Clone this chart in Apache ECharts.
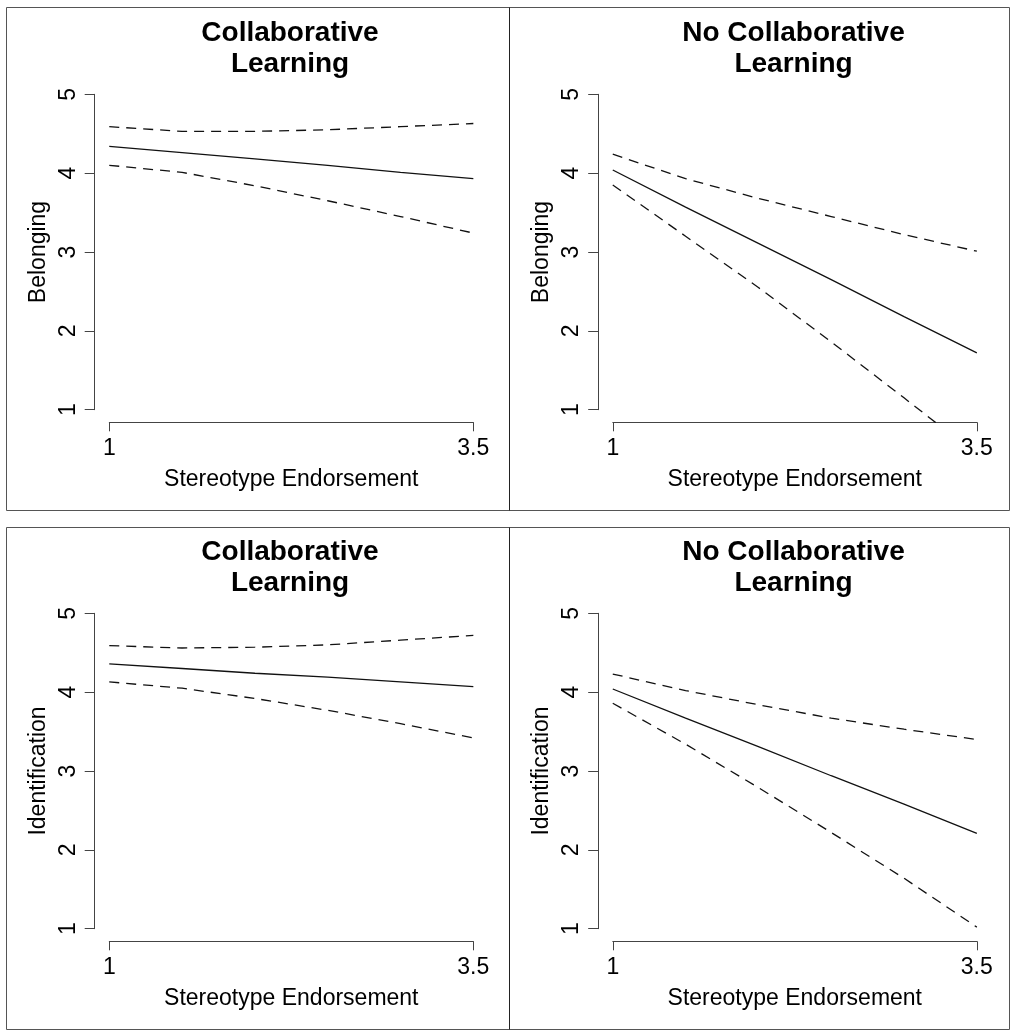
<!DOCTYPE html>
<html><head><meta charset="utf-8">
<script src="https://cdn.jsdelivr.net/npm/echarts@6/dist/echarts.min.js"></script>
<style>html,body{margin:0;padding:0;background:#fff}#c{width:1012px;height:1036px}</style>
</head><body><div id="c"></div>
<script>
// ---- data ----
const xValues = [1, 1.5, 2, 2.5, 3, 3.5];
const xTicks = [1, 3.5];
const yTicks = [1, 2, 3, 4, 5];
const panelTitles = ['Collaborative\nLearning', 'No Collaborative\nLearning', 'Collaborative\nLearning', 'No Collaborative\nLearning'];
const yNames = ['Belonging', 'Belonging', 'Identification', 'Identification'];
const xName = 'Stereotype Endorsement';

// Belonging – Collaborative Learning
const belongCollabFit   = [4.34, 4.26, 4.18, 4.10, 4.01, 3.93];
const belongCollabUpper = [4.59, 4.53, 4.53, 4.55, 4.59, 4.63];
const belongCollabLower = [4.10, 4.01, 3.84, 3.65, 3.45, 3.24];
// Belonging – No Collaborative Learning
const belongNoFit   = [4.04, 3.57, 3.11, 2.65, 2.18, 1.72];
const belongNoUpper = [4.24, 3.93, 3.68, 3.45, 3.22, 3.01];
const belongNoLower = [3.85, 3.20, 2.55, 1.86, 1.15, 0.43];
// Identification – Collaborative Learning
const identCollabFit   = [4.36, 4.30, 4.24, 4.19, 4.13, 4.07];
const identCollabUpper = [4.59, 4.56, 4.57, 4.60, 4.66, 4.72];
const identCollabLower = [4.13, 4.05, 3.92, 3.77, 3.60, 3.42];
// Identification – No Collaborative Learning
const identNoFit   = [4.04, 3.67, 3.31, 2.94, 2.58, 2.21];
const identNoUpper = [4.23, 4.02, 3.84, 3.67, 3.53, 3.40];
const identNoLower = [3.86, 3.34, 2.79, 2.22, 1.64, 1.02];

const panels = [
  [belongCollabFit, belongCollabUpper, belongCollabLower],
  [belongNoFit, belongNoUpper, belongNoLower],
  [identCollabFit, identCollabUpper, identCollabLower],
  [identNoFit, identNoUpper, identNoLower]
];

// ---- layout ----
const FONT = '"Liberation Sans", Arial, Helvetica, sans-serif';
const L = {dataLeft: 94.7, dataTop: 81.7, dataW: 393.2, dataH: 340.6,
           axLeft: 109.3, axTop: 94.3, axW: 364, axH: 315.4};
const offsets = [[0, 0], [503.5, 0], [0, 519], [503.5, 519]];
const AX = '#444';

const grid = [], xAxis = [], yAxis = [], series = [], title = [];
offsets.forEach(([dx, dy], i) => {
  grid.push({left: L.dataLeft + dx, top: L.dataTop + dy, width: L.dataW, height: L.dataH});
  grid.push({left: L.axLeft + dx, top: L.axTop + dy, width: L.axW, height: L.axH});
  // hidden data axes (plot region, R-style 4% expansion)
  xAxis.push({type: 'value', gridIndex: 2 * i, min: 0.9, max: 3.6, show: false});
  yAxis.push({type: 'value', gridIndex: 2 * i, min: 0.84, max: 5.16, show: false});
  // visible R-style axes
  xAxis.push({
    type: 'value', gridIndex: 2 * i + 1, min: 1, max: 3.5, offset: 12.6,
    axisLine: {show: true, onZero: false, lineStyle: {color: AX, width: 1}},
    axisTick: {show: true, length: 9, customValues: xTicks, lineStyle: {color: AX}},
    axisLabel: {customValues: xTicks, margin: 15, fontSize: 23, color: '#000', fontFamily: FONT,
                showMinLabel: true, showMaxLabel: true},
    splitLine: {show: false},
    name: xName, nameLocation: 'middle', nameGap: 46,
    nameTextStyle: {fontSize: 23, color: '#000', fontFamily: FONT}
  });
  yAxis.push({
    type: 'value', gridIndex: 2 * i + 1, min: 1, max: 5, interval: 1, offset: 14.6,
    axisLine: {show: true, onZero: false, lineStyle: {color: AX, width: 1}},
    axisTick: {show: true, length: 10, lineStyle: {color: AX}},
    axisLabel: {rotate: 90, margin: 15, fontSize: 23, color: '#000', fontFamily: FONT,
                showMinLabel: true, showMaxLabel: true},
    splitLine: {show: false},
    name: yNames[i], nameLocation: 'middle', nameRotate: 90, nameGap: 45,
    nameTextStyle: {fontSize: 23, color: '#000', fontFamily: FONT}
  });
  title.push({
    text: panelTitles[i], left: 290 + dx, top: 17.5 + dy, textAlign: 'center', padding: 0,
    textStyle: {fontSize: 28, fontWeight: 'bold', color: '#000', fontFamily: FONT, lineHeight: 31}
  });
  const [fit, up, lo] = panels[i];
  const mk = (arr, dashed) => ({
    type: 'line', xAxisIndex: 2 * i, yAxisIndex: 2 * i,
    data: xValues.map((x, k) => [x, arr[k]]),
    showSymbol: false, symbol: 'none', clip: true, smooth: false,
    lineStyle: {color: '#111', width: 1.3, type: dashed ? [10, 7] : 'solid'},
    emphasis: {disabled: true}
  });
  series.push(mk(fit, false), mk(up, true), mk(lo, true));
});

const graphic = [
  {type: 'rect', shape: {x: 6.5, y: 7.5, width: 1003, height: 503}, style: {fill: 'none', stroke: '#555', lineWidth: 1}},
  {type: 'line', shape: {x1: 509.5, y1: 7.5, x2: 509.5, y2: 510.5}, style: {stroke: '#222', lineWidth: 1}},
  {type: 'rect', shape: {x: 6.5, y: 527.5, width: 1003, height: 502}, style: {fill: 'none', stroke: '#555', lineWidth: 1}},
  {type: 'line', shape: {x1: 509.5, y1: 527.5, x2: 509.5, y2: 1029.5}, style: {stroke: '#222', lineWidth: 1}}
];

const chart = echarts.init(document.getElementById('c'), null, {renderer: 'canvas'});
chart.setOption({animation: false, backgroundColor: '#fff', title, grid, xAxis, yAxis, series, graphic, tooltip: {show: false}});
</script></body></html>
